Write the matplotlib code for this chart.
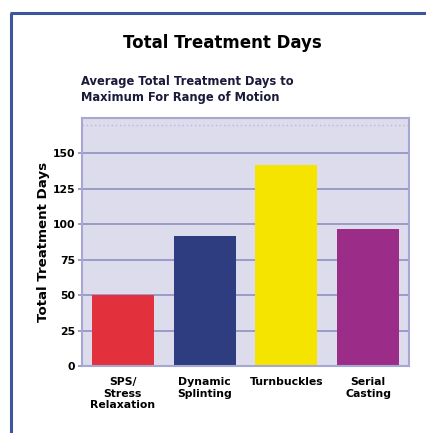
import matplotlib
matplotlib.use("Agg")
import matplotlib.pyplot as plt
from matplotlib.lines import Line2D

categories = ["SPS/\nStress\nRelaxation", "Dynamic\nSplinting", "Turnbuckles", "Serial\nCasting"]
values = [50, 92, 142, 97]
colors = ["#e3303d", "#2e3c80", "#f5e400", "#9b2c87"]
yticks = [0, 25, 50, 75, 100, 125, 150]

fig = plt.figure(figsize=(4.27, 4.33), dpi=100)
W, H = 427, 433
ax = fig.add_axes([82 / W, 1 - 366 / H, 327 / W, 248 / H])
ax.set_facecolor("#dcdcec")
ax.set_xlim(-0.5, 3.5)
ax.set_ylim(0, 175)
ax.set_axisbelow(True)
ax.yaxis.grid(True, color="#9a9cc8", linewidth=1.4)
ax.axhline(170, color="#b8b9d8", linewidth=1.0, linestyle=(0, (1, 2)), zorder=0.5)
ax.bar(range(len(values)), values, width=0.76, color=colors, zorder=2)
ax.set_yticks(yticks)
ax.set_yticklabels([str(t) for t in yticks], fontsize=7.8, fontweight="heavy")
ax.set_xticks(range(len(categories)))
ax.set_xticklabels(categories, fontsize=7.8, fontweight="heavy", linespacing=1.2)
ax.tick_params(axis="x", length=0, pad=8)
ax.tick_params(axis="y", length=3, width=1.4, color="#9a9cc8", pad=2)
for s in ax.spines.values():
    s.set_color("#a6a8d2")
    s.set_linewidth(1.5)
ax.set_ylabel("Total Treatment Days", fontsize=9.6, fontweight="heavy", labelpad=2)

fig.text(222 / W, 1 - 43 / H, "Total Treatment Days", ha="center", va="center",
         fontsize=12, fontweight="heavy")
fig.text(81 / W, 1 - 89.5 / H, "Average Total Treatment Days to\nMaximum For Range of Motion",
         ha="left", va="center", fontsize=8.3, fontweight="heavy", color="#1a1a3a", linespacing=1.25)

# frame lines
fig.add_artist(Line2D([11.5 / W, 11.5 / W], [0, 1 - 13 / H], color="#3f54a0", linewidth=2.2,
                      solid_capstyle="butt"))
fig.add_artist(Line2D([10.4 / W, 1], [1 - 13 / H, 1 - 13 / H], color="#3f54a0", linewidth=2.2,
                      solid_capstyle="butt"))

fig.savefig("out.png", dpi=100)
